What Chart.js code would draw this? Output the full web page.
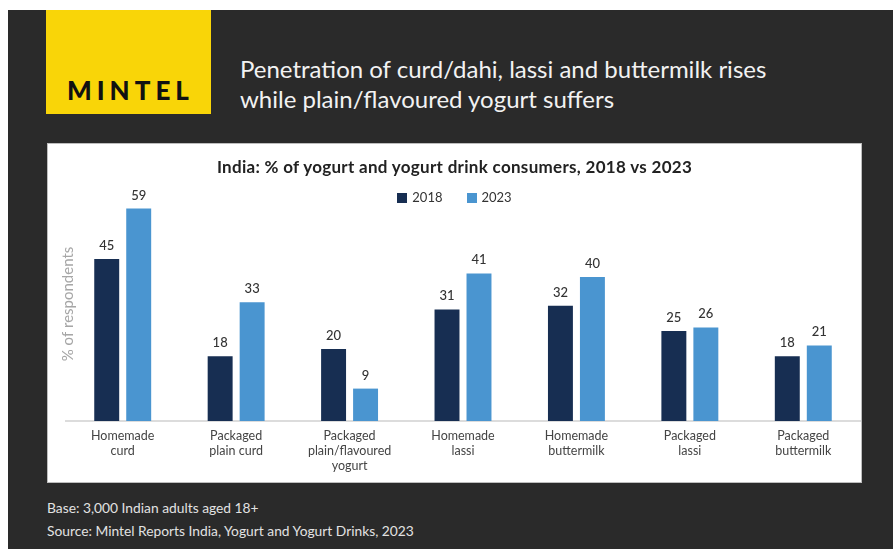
<!DOCTYPE html>
<html>
<head>
<meta charset="utf-8">
<script src="https://cdn.jsdelivr.net/npm/chart.js@4.4.1/dist/chart.umd.min.js"></script>
<style>
  html, body { margin:0; padding:0; background:#fff; }
  body { width:893px; height:549px; position:relative; overflow:hidden; font-family:Lato, "Open Sans", sans-serif; }
  .dark { position:absolute; left:8px; top:10px; width:885px; height:539px; background:#2a2a2a; }
  .logo { position:absolute; left:46px; top:10px; width:165px; height:104px; background:#f9d508; }
  .logo span { position:absolute; left:21px; top:67px; font-size:26px; font-weight:900; letter-spacing:5px; color:#111; line-height:1; }
  .headline { position:absolute; left:240px; top:54px; color:#f2f2f2; font-size:24px; line-height:30px; font-weight:400; }
  .panel { position:absolute; left:47px; top:143px; width:813px; height:338px; background:#fff; border:1px solid #bdbdbd; }
  .panel canvas { position:absolute; left:0; top:0; }
  .ctitle { position:absolute; left:0; width:813px; top:12px; text-align:center; font-size:17px; letter-spacing:0.3px; font-weight:700; color:#222; }
  .legend { position:absolute; left:0; width:813px; top:45px; text-align:center; font-size:13px; color:#333; }
  .legend .item { display:inline-block; margin:0 12px; }
  .legend .box { display:inline-block; width:10px; height:10px; margin-right:5px; vertical-align:-1px; }
  .foot { position:absolute; left:47px; color:#e2e2e2; font-size:13.8px; }
</style>
</head>
<body>
<div class="dark"></div>
<div class="logo"><span>MINTEL</span></div>
<div class="headline">Penetration of curd/dahi, lassi and buttermilk rises<br>while plain/flavoured yogurt suffers</div>
<div class="panel">
  <canvas id="chart" width="813" height="338"></canvas>
  <div class="ctitle">India: % of yogurt and yogurt drink consumers, 2018 vs 2023</div>
  <div class="legend" id="legend"></div>
</div>
<div class="foot" style="top:499px">Base: 3,000 Indian adults aged 18+</div>
<div class="foot" style="top:522px">Source: Mintel Reports India, Yogurt and Yogurt Drinks, 2023</div>

<script>
const categories = [
  ["Homemade", "curd"],
  ["Packaged", "plain curd"],
  ["Packaged", "plain/flavoured", "yogurt"],
  ["Homemade", "lassi"],
  ["Homemade", "buttermilk"],
  ["Packaged", "lassi"],
  ["Packaged", "buttermilk"]
];
const values2018 = [45, 18, 20, 31, 32, 25, 18];
const values2023 = [59, 33, 9, 41, 40, 26, 21];
const seriesNames = ["2018", "2023"];
const seriesColors = ["#172e52", "#4a95d0"];

// value labels above each bar
const valueLabels = {
  id: "valueLabels",
  afterDatasetsDraw(chart){
    const ctx = chart.ctx;
    ctx.save();
    ctx.font = "500 13px Lato, sans-serif";
    ctx.fillStyle = "#333";
    ctx.textAlign = "center";
    ctx.textBaseline = "alphabetic";
    chart.data.datasets.forEach((ds, i) => {
      chart.getDatasetMeta(i).data.forEach((bar, j) => {
        ctx.fillText(String(ds.data[j]), bar.x, bar.y - 9);
      });
    });
    ctx.restore();
  }
};

// rotated y axis title, sits over the left edge of the plot
const yTitle = {
  id: "yTitle",
  afterDraw(chart){
    const { ctx, chartArea } = chart;
    ctx.save();
    ctx.translate(chartArea.left + 2, (chartArea.top + chartArea.bottom) / 2);
    ctx.rotate(-Math.PI / 2);
    ctx.font = "15px Lato, sans-serif";
    ctx.fillStyle = "#a6a6a6";
    ctx.textAlign = "center";
    ctx.textBaseline = "middle";
    ctx.fillText("% of respondents", 0, 0);
    ctx.restore();
  }
};

const chart = new Chart(document.getElementById("chart"), {
  type: "bar",
  data: {
    labels: categories,
    datasets: seriesNames.map((name, i) => ({
      label: name,
      data: i === 0 ? values2018 : values2023,
      backgroundColor: seriesColors[i],
      borderWidth: 0,
      categoryPercentage: 0.564,
      barPercentage: 0.78,
      clip: false
    }))
  },
  options: {
    responsive: false,
    animation: false,
    layout: { padding: { left: 18, right: 1, top: 43, bottom: 2 } },
    plugins: { legend: { display: false }, title: { display: false }, tooltip: { enabled: false } },
    scales: {
      x: {
        grid: { display: false, drawTicks: false, tickLength: 0 },
        border: { display: true, color: "#dcdcdc", width: 2 },
        ticks: { color: "#444", font: { family: "Lato", size: 12.5, lineHeight: 1.2 }, padding: 7, maxRotation: 0, autoSkip: false }
      },
      y: { display: false, min: 0, max: 65 }
    }
  },
  plugins: [valueLabels, yTitle]
});

// html legend built from the datasets
document.getElementById("legend").innerHTML = chart.data.datasets.map(ds =>
  `<span class="item"><span class="box" style="background:${ds.backgroundColor}"></span>${ds.label}</span>`
).join("");
</script>
</body>
</html>
